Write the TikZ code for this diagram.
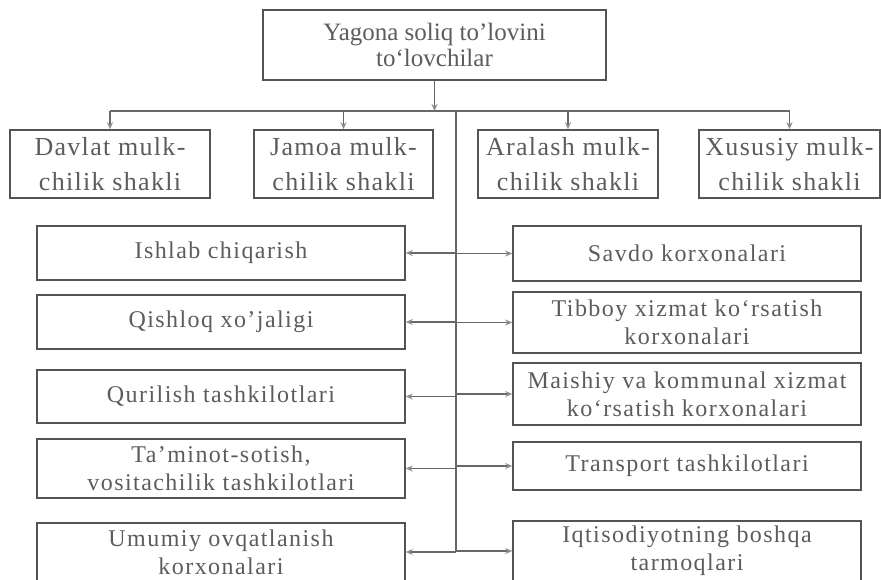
\documentclass[tikz,border=0pt]{standalone}
\usepackage{fontspec}
\setmainfont{Liberation Serif}
\newfontfamily\listfont[LetterSpace=6,Ligatures=TeX]{Liberation Serif}
\newfontfamily\ownfont[LetterSpace=5,Ligatures=TeX]{Liberation Serif}
\usetikzlibrary{arrows.meta}
\definecolor{boxgray}{HTML}{545454}
\definecolor{inkgray}{HTML}{5C5C5C}
\definecolor{linegray}{HTML}{686868}
\definecolor{tipgray}{HTML}{8C8C8C}

\begin{document}
\begin{tikzpicture}[x=1pt,y=-1pt,
    box/.style={draw=boxgray,line width=1.6pt,text=inkgray,align=center,inner sep=0pt},
    ownbox/.style={box,minimum height=68pt,font=\ownfont\fontsize{26}{35}\selectfont},
    listbox/.style={box,font=\listfont\fontsize{24}{28}\selectfont},
    conn/.style={draw=linegray,line width=1.8pt},
    arr/.style={conn,-{Stealth[length=7pt,width=6pt,color=tipgray]}}]
    \useasboundingbox (0,0) rectangle (881,579);
    \clip (0,0) rectangle (881,579);

    \node[box,minimum width=343pt,minimum height=70pt,font=\fontsize{25}{26}\selectfont](top) at (434.5,45) {Yagona soliq to’lovini\\to‘lovchilar};

    \node[ownbox,minimum width=200pt](davlat) at (110,164) {Davlat mulk-\\chilik shakli};
    \node[ownbox,minimum width=179pt](jamoa) at (343.5,164) {Jamoa mulk-\\chilik shakli};
    \node[ownbox,minimum width=180pt](aralash) at (568,164) {Aralash mulk-\\chilik shakli};
    \node[ownbox,minimum width=181pt](xususiy) at (789.5,164) {Xususiy mulk-\\chilik shakli};

    % chap ustun
    \node[listbox,minimum width=368pt,minimum height=54pt](ishlab) at (221,253) {Ishlab chiqarish};
    \node[listbox,minimum width=368pt,minimum height=54pt](qishloq) at (221,322) {Qishloq xo’jaligi};
    \node[listbox,minimum width=368pt,minimum height=53pt](qurilish) at (221,396.5) {Qurilish tashkilotlari};
    \node[listbox,minimum width=368pt,minimum height=59pt](taminot) at (221,468.5) {Ta’minot-sotish,\\vositachilik tashkilotlari};
    \node[listbox,minimum width=368pt,minimum height=58pt](umumiy) at (221,552) {Umumiy ovqatlanish\\korxonalari};

    % o'ng ustun
    \node[listbox,minimum width=348pt,minimum height=55pt](savdo) at (687,253.5) {Savdo korxonalari};
    \node[listbox,minimum width=348pt,minimum height=61pt](tibbiy) at (687,322.5) {Tibboy xizmat ko‘rsatish\\korxonalari};
    \node[listbox,minimum width=348pt,minimum height=62pt](maishiy) at (687,394) {Maishiy va kommunal xizmat\\ko‘rsatish korxonalari};
    \node[listbox,minimum width=348pt,minimum height=48pt](transport) at (687,466) {Transport tashkilotlari};
    \node[listbox,minimum width=348pt,minimum height=60pt](boshqa) at (687,551) {Iqtisodiyotning boshqa\\tarmoqlari};

    \coordinate (bus) at (456,111);
    \draw[arr](top.south)--(top.south |- bus);
    \draw[conn](davlat.north |- bus)--(xususiy.north |- bus);
    \foreach \o in {davlat,jamoa,aralash,xususiy}
        \draw[arr](\o.north |- bus)--(\o.north);

    \draw[conn](bus)--(bus |- umumiy.east);
    \foreach \l/\r in {ishlab/savdo,qishloq/tibbiy,qurilish/maishiy,taminot/transport,umumiy/boshqa}{
        \draw[arr](bus |- \l.east)--(\l.east);
        \draw[arr](bus |- \r.west)--(\r.west);
    }
\end{tikzpicture}
\end{document}
